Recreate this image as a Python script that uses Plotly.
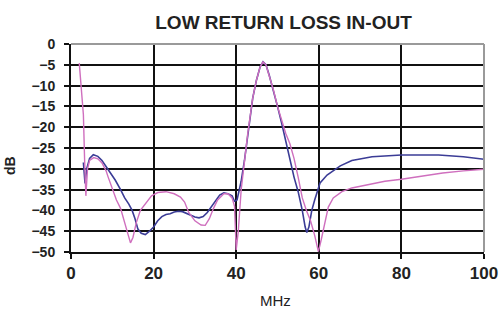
import plotly.graph_objects as go

# Pink trace (MHz, dB)
pink_x = [2.0, 2.6, 3.0, 3.3, 3.6, 4.0, 4.5, 5.5, 6.5, 7.5, 8.5, 9.0, 10.0, 11.0, 12.0, 13.0, 14.0, 14.4,
          15.0, 15.8, 16.8, 18.0, 19.5, 21.0, 23.0, 25.0, 26.5, 27.5, 28.5, 30.0, 31.5, 32.5, 33.5, 34.5,
          35.5, 37.0, 38.0, 39.0, 39.6, 40.0, 40.5, 41.2, 42.0, 42.8, 44.0, 44.9, 45.8, 46.5, 47.2, 48.0,
          49.0, 50.0, 51.0, 52.0, 53.0, 54.0, 55.0, 56.0, 57.0, 58.0, 59.0, 59.9, 60.6, 61.1, 62.3, 63.5,
          65.6, 68.0, 72.0, 76.0, 80.0, 85.0, 90.0, 95.0, 100.0]
pink_y = [-4.6, -11.0, -17.0, -28.0, -36.5, -30.0, -28.0, -27.3, -27.6, -28.6, -30.5, -32.0, -35.0, -37.5,
          -39.5, -43.0, -46.5, -47.8, -46.5, -43.0, -40.0, -38.5, -36.5, -35.7, -35.5, -36.0, -36.8, -38.0,
          -40.5, -42.5, -43.5, -43.6, -42.0, -39.5, -37.5, -36.0, -36.0, -37.0, -39.0, -49.5, -45.0, -35.1,
          -28.0, -21.5, -13.0, -8.7, -5.5, -4.3, -5.0, -7.5, -11.0, -15.0, -18.5, -21.5, -24.0, -27.5,
          -32.0, -37.0, -40.0, -42.5, -46.0, -49.9, -47.0, -44.5, -39.2, -37.0, -35.5, -34.6, -33.8, -33.0,
          -32.5, -31.8, -31.0, -30.5, -30.1]

# Blue trace (MHz, dB)
blue_x = [3.0, 3.4, 3.8, 4.5, 5.4, 6.5, 7.5, 8.5, 9.5, 10.7, 12.0, 13.0, 14.0, 14.8, 15.5, 16.2, 17.0,
          18.0, 19.0, 20.0, 21.0, 22.0, 23.0, 24.0, 25.0, 26.0, 27.0, 28.0, 29.0, 30.0, 31.0, 32.0, 33.0,
          34.0, 35.0, 36.0, 37.0, 38.0, 39.0, 39.6, 40.2, 40.6, 41.2, 42.0, 42.8, 44.0, 44.9, 45.8, 46.5,
          47.2, 48.0, 49.0, 50.0, 51.0, 52.0, 53.0, 54.0, 55.0, 56.0, 56.7, 57.1, 57.6, 58.3, 59.0, 60.3,
          62.0, 65.2, 68.0, 72.9, 80.0, 85.0, 89.0, 95.0, 100.0]
blue_y = [-28.5, -33.5, -30.0, -27.5, -26.6, -27.0, -28.0, -29.5, -31.0, -32.7, -35.0, -37.0, -38.5, -40.0,
          -42.0, -44.5, -45.5, -45.8, -45.0, -44.0, -42.5, -41.5, -41.0, -40.8, -40.4, -40.2, -40.3, -40.8,
          -41.3, -41.6, -41.8, -41.5, -40.5, -39.0, -37.5, -36.3, -35.8, -36.0, -36.5, -37.8, -37.5, -35.5,
          -33.0, -28.0, -21.5, -13.0, -8.7, -5.5, -4.3, -5.0, -7.5, -11.0, -15.0, -19.0, -23.5, -28.0, -32.0,
          -35.5, -40.0, -44.0, -45.3, -44.0, -40.0, -37.5, -33.4, -31.5, -29.3, -28.0, -27.1, -26.7, -26.6,
          -26.7, -27.1, -27.7]

x_ticks = [0, 20, 40, 60, 80, 100]
y_ticks = [0, -5, -10, -15, -20, -25, -30, -35, -40, -45, -50]

FONT = "Liberation Sans, Arial, sans-serif"

fig = go.Figure()
fig.add_trace(go.Scatter(x=blue_x, y=blue_y, mode="lines",
                         line=dict(color="#3b3c96", width=1.6), showlegend=False))
fig.add_trace(go.Scatter(x=pink_x, y=pink_y, mode="lines",
                         line=dict(color="#cf6fbe", width=1.4), showlegend=False))

fig.update_layout(
    width=504, height=316,
    margin=dict(l=71, r=20, t=44, b=64, autoexpand=False),
    paper_bgcolor="white", plot_bgcolor="white",
    title=dict(text="<b>LOW RETURN LOSS IN-OUT</b>", xref="container", x=0.5625, xanchor="center",
               yref="container", y=0.93, yanchor="middle",
               font=dict(family=FONT, size=19, color="#222222")),
    xaxis=dict(range=[0, 100], tickvals=x_ticks, showgrid=True, gridcolor="#111111", gridwidth=2,
               zeroline=False, showline=True, linecolor="#111111", linewidth=2,
               ticks="outside", ticklen=5, tickwidth=2, tickcolor="#111111",
               tickfont=dict(family=FONT, size=17, color="#222222", weight="bold"),
               fixedrange=True, automargin=False),
    yaxis=dict(range=[-50, 0], tickvals=y_ticks, showgrid=True, gridcolor="#111111", gridwidth=2,
               zeroline=False, showline=True, linecolor="#111111", linewidth=2,
               ticks="outside", ticklen=5, tickwidth=2, tickcolor="#111111",
               ticklabelstandoff=6,
               tickfont=dict(family=FONT, size=14, color="#222222", weight="bold"),
               fixedrange=True, automargin=False),
)

# axis titles
fig.add_annotation(text="MHz", xref="paper", yref="paper", x=(275 - 71) / 413, y=-(300 - 252) / 208,
                   xanchor="center", yanchor="middle", showarrow=False,
                   font=dict(family=FONT, size=15, color="#222222"))
fig.add_annotation(text="dB", xref="paper", yref="paper", x=(10 - 71) / 413, y=(252 - 166) / 208,
                   xanchor="center", yanchor="middle", showarrow=False, textangle=-90,
                   font=dict(family=FONT, size=14, color="#222222", weight="bold"))

# lighter top and right frame
fig.add_shape(type="line", xref="paper", yref="paper", x0=0, x1=1, y0=1, y1=1,
              line=dict(color="#9a9a9a", width=2))
fig.add_shape(type="line", xref="paper", yref="paper", x0=1, x1=1, y0=0, y1=1,
              line=dict(color="#9a9a9a", width=2))

fig.write_html("out.html", config={"displayModeBar": False},
               post_script="document.body.style.margin='0';document.body.style.padding='0';")
